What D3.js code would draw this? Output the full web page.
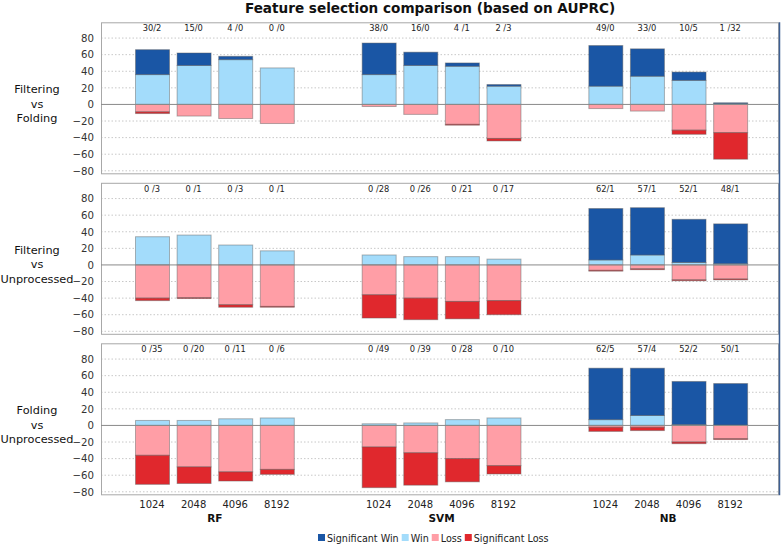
<!DOCTYPE html>
<html>
<head>
<meta charset="utf-8">
<script src="https://cdn.jsdelivr.net/npm/d3@7"></script>
<style>
  html, body { margin: 0; padding: 0; background: #fff; }
  svg { display: block; font-family: "DejaVu Sans", Verdana, sans-serif; }
</style>
</head>
<body>
<svg id="chart" width="784" height="545"></svg>
<script>
// ---------------- data ----------------
const classifiers = ["RF", "SVM", "NB"];
const featureSizes = ["1024", "2048", "4096", "8192"];
const comparisons = [
  ["Filtering", "vs", "Folding"],
  ["Filtering", "vs", "Unprocessed"],
  ["Folding", "vs", "Unprocessed"]
];
const yTicks = [80, 60, 40, 20, 0, -20, -40, -60, -80];
const seriesNames = ["Significant Win", "Win", "Loss", "Significant Loss"];

// order: RF 1024..8192, SVM 1024..8192, NB 1024..8192
const sigWin = [
  [30, 15, 4, 0,   38, 16, 4, 2,   49, 33, 10, 1],
  [0, 0, 0, 0,     0, 0, 0, 0,     62, 57, 52, 48],
  [0, 0, 0, 0,     0, 0, 0, 0,     62, 57, 52, 50]
];
const win = [
  [36, 47, 54, 44,  36, 47, 46, 22,  22, 34, 29, 1],
  [34, 36, 24, 17,  12, 10, 10, 7,   6, 12, 3, 1.5],
  [6, 6, 8, 9,      2, 3, 7, 9,      7, 12, 1, 0.5]
];
const loss = [
  [9, 14, 17, 23,   2.5, 12, 24, 41,  5, 8, 31, 34],
  [40, 39.5, 48, 50, 36, 40, 44, 43,  6.5, 4.7, 18, 17],
  [36, 50, 56, 53,  26, 33, 40, 48.5, 2.2, 2.2, 20, 16]
];
const sigLoss = [
  [2, 0, 0, 0,      0, 0, 1, 3,      0, 0, 5, 32],
  [3, 1, 3, 1,      28, 26, 21, 17,  1, 1, 1, 1],
  [35, 20, 11, 6,   49, 39, 28, 10,  5, 4, 2, 1]
];

// ---------------- layout ----------------
const colors = { sigWin: "#1a56a5", win: "#a3dcfb", loss: "#ff9ea6", sigLoss: "#e0282d" };
const plotLeft = 101, plotRight = 778;
const panelTop0 = 22.3, panelStep = 160.5, panelH = 151;

const svg = d3.select("#chart");

const xGroup = d3.scaleBand().domain(classifiers).range([plotLeft, 781]);
const xBar = d3.scaleBand().domain(featureSizes).range([30.2, 196.6])
  .paddingInner(0.183).paddingOuter(0.0915);

// title
svg.append("text")
  .attr("x", 430).attr("y", 13)
  .attr("text-anchor", "middle")
  .attr("font-size", 13.6).attr("font-weight", "bold").attr("fill", "#111")
  .text("Feature selection comparison (based on AUPRC)");

comparisons.forEach((label, p) => {
  const top = panelTop0 + p * panelStep;
  const y = d3.scaleLinear().domain([-83, 99]).range([top + panelH, top]);
  const g = svg.append("g");

  // grid lines
  g.selectAll("line.grid").data(yTicks.filter(t => t !== 0)).join("line")
    .attr("x1", plotLeft).attr("x2", plotRight)
    .attr("y1", d => y(d)).attr("y2", d => y(d))
    .attr("stroke", "#c8c8c8").attr("stroke-dasharray", "1.5,2");

  // panel frame
  g.append("rect")
    .attr("x", plotLeft + 0.5).attr("y", top + 0.5)
    .attr("width", plotRight - plotLeft).attr("height", panelH)
    .attr("fill", "none").attr("stroke", "#a8a8a8");

  // y axis
  const yAxis = d3.axisLeft(y).tickValues(yTicks).tickSize(0).tickPadding(7);
  const ax = g.append("g").attr("transform", `translate(${plotLeft},0)`).call(yAxis);
  ax.select(".domain").remove();
  ax.selectAll("text").attr("font-size", 10.2).attr("fill", "#333")
    .attr("font-family", "DejaVu Sans, sans-serif");

  // row label
  const lbl = g.append("text").attr("text-anchor", "middle")
    .attr("font-size", 11.3).attr("fill", "#111");
  label.forEach((s, i) => {
    lbl.append("tspan").attr("x", 37).attr("y", y(0) - 15 + i * 14.5 + 4).text(s);
  });

  // bars
  const rows = [];
  classifiers.forEach((c, ci) => featureSizes.forEach((f, fi) => {
    const k = ci * 4 + fi;
    rows.push({ c, f, sw: sigWin[p][k], w: win[p][k], l: loss[p][k], sl: sigLoss[p][k] });
  }));

  const bw = xBar.bandwidth();
  const bx = d => xGroup(d.c) + xBar(d.f);
  const segs = [];
  rows.forEach(d => {
    segs.push({ d, y0: 0, y1: d.w, col: colors.win });
    segs.push({ d, y0: d.w, y1: d.w + d.sw, col: colors.sigWin });
    segs.push({ d, y0: -d.l, y1: 0, col: colors.loss });
    segs.push({ d, y0: -d.l - d.sl, y1: -d.l, col: colors.sigLoss });
  });
  g.selectAll("rect.seg").data(segs.filter(s => s.y1 - s.y0 > 0)).join("rect")
    .attr("x", s => bx(s.d) + 0.5)
    .attr("width", bw)
    .attr("y", s => y(s.y1))
    .attr("height", s => y(s.y0) - y(s.y1))
    .attr("fill", s => s.col)
    .attr("stroke", "rgba(90,90,90,0.45)").attr("stroke-width", 1);

  // zero line
  g.append("line")
    .attr("x1", plotLeft).attr("x2", plotRight)
    .attr("y1", y(0)).attr("y2", y(0))
    .attr("stroke", "#8a8a8a").attr("stroke-width", 1);

  // count labels
  g.selectAll("text.cnt").data(rows).join("text")
    .attr("x", d => bx(d) + bw / 2)
    .attr("y", top + 9)
    .attr("text-anchor", "middle")
    .attr("font-size", 8.3).attr("fill", "#222")
    .style("white-space", "pre")
    .text(d => String(d.sw).padEnd(2, " ") + "/" + d.sl);

  // x axis on last panel
  if (p === comparisons.length - 1) {
    classifiers.forEach(c => {
      const gx = svg.append("g").attr("transform", `translate(${xGroup(c)},${top + panelH + 3})`);
      const xa = d3.axisBottom(xBar).tickSize(0).tickPadding(4);
      gx.call(xa);
      gx.select(".domain").remove();
      gx.selectAll("text").attr("font-size", 10).attr("fill", "#222")
        .attr("font-family", "DejaVu Sans, sans-serif");
      svg.append("text")
        .attr("x", xGroup(c) + (xBar.range()[0] + xBar.range()[1]) / 2 + 0.5)
        .attr("y", 522)
        .attr("text-anchor", "middle")
        .attr("font-size", 10.5).attr("font-weight", "bold").attr("fill", "#111")
        .text(c);
    });
  }
});

// right edge line
svg.append("line")
  .attr("x1", 779.5).attr("x2", 779.5)
  .attr("y1", panelTop0).attr("y2", panelTop0 + 2 * panelStep + panelH + 1)
  .attr("stroke", "#3d5f93").attr("stroke-width", 1.5);

// legend
const legendColors = [colors.sigWin, colors.win, colors.loss, colors.sigLoss];
const leg = svg.append("g");
let lx = 318;
seriesNames.forEach((n, i) => {
  leg.append("rect").attr("x", lx).attr("y", 534).attr("width", 7).attr("height", 7)
    .attr("fill", legendColors[i]);
  const t = leg.append("text").attr("x", lx + 9).attr("y", 541.5)
    .attr("font-size", 9.6).attr("fill", "#222").text(n);
  lx += 9 + t.node().getComputedTextLength() + 3;
});
</script>
</body>
</html>
